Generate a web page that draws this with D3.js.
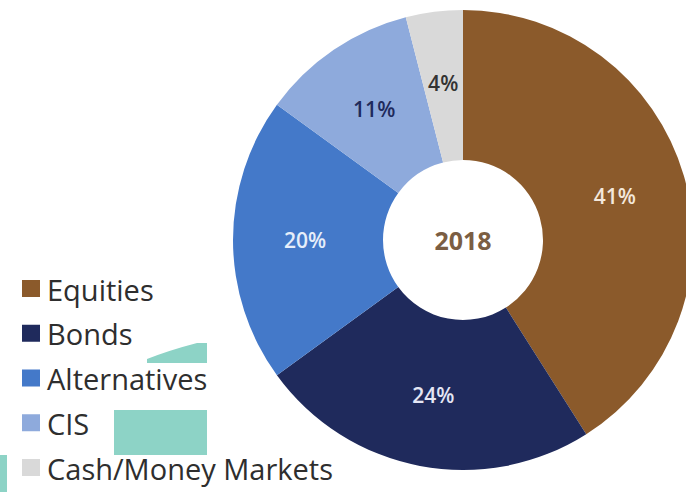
<!DOCTYPE html>
<html>
<head>
<meta charset="utf-8">
<script src="https://cdn.jsdelivr.net/npm/d3@7"></script>
<style>
  html, body { margin: 0; padding: 0; background: #ffffff; }
  svg { display: block; }
</style>
</head>
<body>
<svg id="chart" width="686" height="492"></svg>
<script>
const categories = ["Equities", "Bonds", "Alternatives", "CIS", "Cash/Money Markets"];
const values = [41, 24, 20, 11, 4];
const labels = ["41%", "24%", "20%", "11%", "4%"];
const colors = ["#8b5a2b", "#1f2a5c", "#4479c9", "#8eaadc", "#d9d9d9"];
const labelColors = ["#f4e8dc", "#e4e6f4", "#e6eefa", "#1f2a5c", "#333333"];
const centerLabel = "2018";

const svg = d3.select("#chart");
const W = 686, H = 492;
svg.append("rect").attr("width", W).attr("height", H).attr("fill", "#fff");

const cx = 463, cy = 240, outerR = 230, innerR = 80, labelR = 158;

const data = categories.map((c, i) => ({ cat: c, value: values[i], label: labels[i], color: colors[i], lc: labelColors[i] }));

const pie = d3.pie().value(d => d.value).sort(null);
const arc = d3.arc().innerRadius(innerR).outerRadius(outerR);
const labelArc = d3.arc().innerRadius(labelR).outerRadius(labelR);

const g = svg.append("g").attr("transform", `translate(${cx},${cy})`);
const arcs = pie(data);

g.selectAll("path.slice").data(arcs).join("path")
  .attr("class", "slice")
  .attr("d", arc)
  .attr("fill", d => d.data.color);

g.selectAll("text.pct").data(arcs).join("text")
  .attr("class", "pct")
  .attr("transform", d => `translate(${labelArc.centroid(d)})`)
  .attr("text-anchor", "middle")
  .attr("dominant-baseline", "central")
  .attr("font-family", "'Open Sans', sans-serif")
  .attr("font-size", 21)
  .attr("font-weight", 600)
  .attr("fill", d => d.data.lc)
  .text(d => d.data.label);

g.append("text")
  .attr("text-anchor", "middle")
  .attr("dominant-baseline", "central")
  .attr("font-family", "'Open Sans', sans-serif")
  .attr("font-size", 25)
  .attr("font-weight", 700)
  .attr("fill", "#7b5e43")
  .text(centerLabel);

// Legend
const legendY = d3.scalePoint().domain(categories).range([289, 468]);
const lg = svg.append("g");
const rows = lg.selectAll("g.row").data(data).join("g")
  .attr("class", "row")
  .attr("transform", d => `translate(0,${legendY(d.cat)})`);
rows.append("rect")
  .attr("x", 22).attr("y", -9).attr("width", 18).attr("height", 17)
  .attr("fill", d => d.color);
rows.append("text")
  .attr("x", 47).attr("y", 0)
  .attr("dominant-baseline", "central")
  .attr("font-family", "'Open Sans', sans-serif")
  .attr("font-size", 29)
  .attr("fill", "#2e2e2e")
  .text(d => d.cat);

// Teal decorative patches present in the reference image
const teal = "#8dd3c6";
svg.append("path")
  .attr("d", "M147,363 L147,359 Q170,350 197,343 L207,343 L207,363 Z")
  .attr("fill", teal);
svg.append("rect").attr("x", 114).attr("y", 410).attr("width", 93).attr("height", 45).attr("fill", teal);
svg.append("rect").attr("x", 0).attr("y", 455).attr("width", 7).attr("height", 37).attr("fill", teal);
</script>
</body>
</html>
